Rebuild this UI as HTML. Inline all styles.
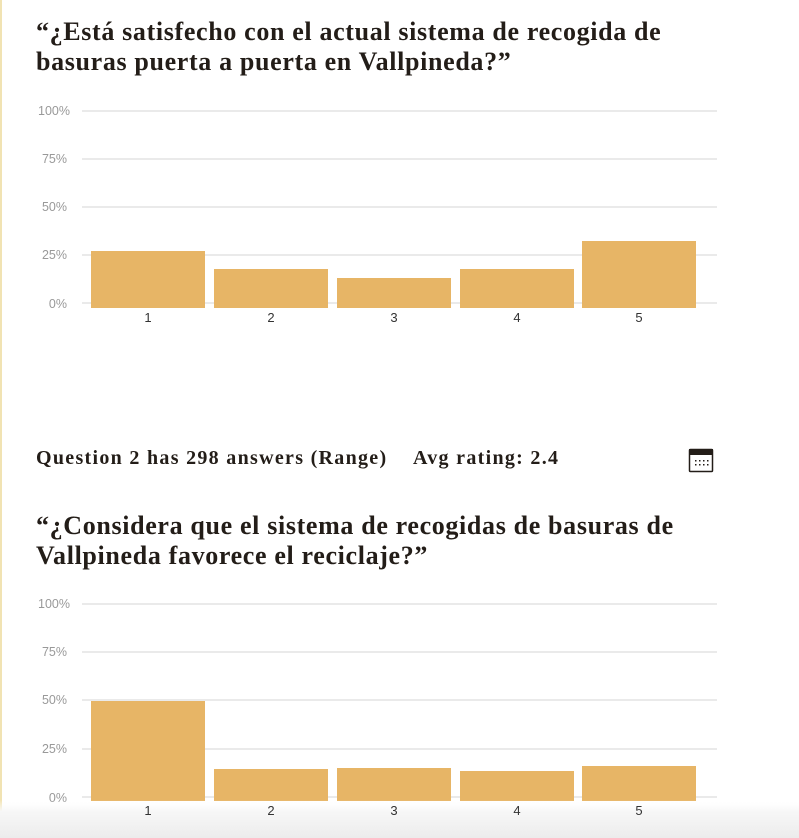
<!DOCTYPE html>
<html><head><meta charset="utf-8"><style>
html,body{margin:0;padding:0;width:799px;height:838px;overflow:hidden;background:#fff;position:relative}
.t{position:absolute;left:36px;font-family:"Liberation Serif",serif;font-weight:bold;color:#231d18;font-size:26px;line-height:30px;letter-spacing:0.65px;white-space:nowrap}
.q{position:absolute;font-family:"Liberation Serif",serif;font-weight:bold;color:#231d18;font-size:20px;letter-spacing:1.3px;white-space:nowrap}
svg{position:absolute;left:0;top:0}
</style></head><body>
<div style="position:absolute;left:0;top:0;width:2px;height:838px;background:#f1e3b3"></div>
<div class="t" style="top:17px">“¿Está satisfecho con el actual sistema de recogida de<br>basuras puerta a puerta en Vallpineda?”</div>
<div class="q" style="left:36px;top:447px">Question 2 has 298 answers (Range)</div>
<div class="q" style="left:413px;top:447px">Avg rating: 2.4</div>
<div class="t" style="top:511px">“¿Considera que el sistema de recogidas de basuras de<br>Vallpineda favorece el reciclaje?”</div>
<svg width="799" height="838" font-family="Liberation Sans, sans-serif">
<g stroke="#e4e4e4" stroke-width="1.5">
<line x1="82" x2="717" y1="111" y2="111"/><line x1="82" x2="717" y1="159" y2="159"/><line x1="82" x2="717" y1="207" y2="207"/><line x1="82" x2="717" y1="255" y2="255"/><line x1="82" x2="717" y1="303" y2="303"/>
<line x1="82" x2="717" y1="604" y2="604"/><line x1="82" x2="717" y1="652" y2="652"/><line x1="82" x2="717" y1="700" y2="700"/><line x1="82" x2="717" y1="749" y2="749"/><line x1="82" x2="717" y1="797" y2="797"/>
</g>
<g fill="#999" font-size="12.5" text-anchor="end">
<text x="70" y="115">100%</text><text x="67" y="163">75%</text><text x="67" y="211">50%</text><text x="67" y="259">25%</text><text x="67" y="308">0%</text>
<text x="70" y="608">100%</text><text x="67" y="656">75%</text><text x="67" y="704">50%</text><text x="67" y="753">25%</text><text x="67" y="802">0%</text>
</g>
<g fill="#e7b566">
<rect x="91" y="251" width="114" height="57"/><rect x="214" y="269" width="114" height="39"/><rect x="337" y="278" width="114" height="30"/><rect x="460" y="269" width="114" height="39"/><rect x="582" y="241" width="114" height="67"/>
<rect x="91" y="701" width="114" height="100"/><rect x="214" y="769" width="114" height="32"/><rect x="337" y="768" width="114" height="33"/><rect x="460" y="771" width="114" height="30"/><rect x="582" y="766" width="114" height="35"/>
</g>
<g fill="#333" font-size="13" text-anchor="middle">
<text x="148" y="322">1</text><text x="271" y="322">2</text><text x="394" y="322">3</text><text x="517" y="322">4</text><text x="639" y="322">5</text>
</g>
<defs><linearGradient id="g" x1="0" y1="0" x2="0" y2="1"><stop offset="0" stop-color="#fff" stop-opacity="0"/><stop offset="0.3" stop-color="#f7f7f7"/><stop offset="1" stop-color="#ececec"/></linearGradient></defs>
<rect x="0" y="800" width="799" height="38" fill="url(#g)"/>
<g fill="#333" font-size="13" text-anchor="middle">
<text x="148" y="815">1</text><text x="271" y="815">2</text><text x="394" y="815">3</text><text x="517" y="815">4</text><text x="639" y="815">5</text>
</g>
<rect x="689.5" y="449.5" width="23" height="22" fill="#fff" stroke="#231d18" stroke-width="1.5" rx="1"/>
<rect x="689" y="449" width="24" height="6" fill="#231d18"/>
<g fill="#231d18"><rect x="695" y="460" width="1.5" height="1.5"/><rect x="699" y="460" width="1.5" height="1.5"/><rect x="703" y="460" width="1.5" height="1.5"/><rect x="707" y="460" width="1.5" height="1.5"/><rect x="695" y="464" width="1.5" height="1.5"/><rect x="699" y="464" width="1.5" height="1.5"/><rect x="703" y="464" width="1.5" height="1.5"/><rect x="707" y="464" width="1.5" height="1.5"/></g>
</svg>
</body></html>
